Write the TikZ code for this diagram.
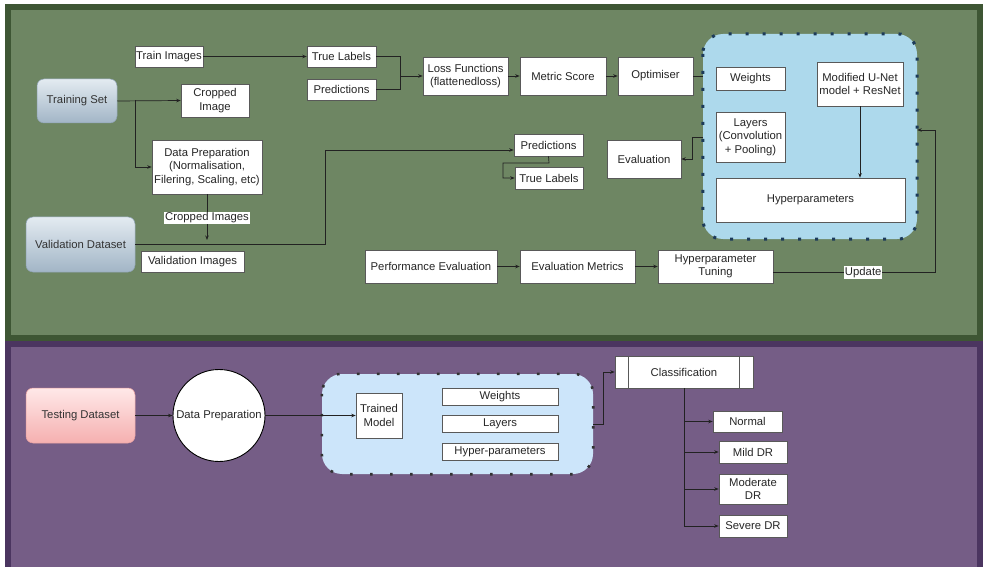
\documentclass[tikz,border=0pt]{standalone}
\usepackage{fontspec}
\setmainfont{Liberation Sans}
\usetikzlibrary{arrows.meta,calc}
\definecolor{gfill}{HTML}{6E8663}
\definecolor{gdark}{HTML}{3E5634}
\definecolor{pfill}{HTML}{755D86}
\definecolor{pdark}{HTML}{4B3560}
\definecolor{contA}{HTML}{ADD9EC}
\definecolor{contB}{HTML}{CCE5FA}
\definecolor{dotA}{HTML}{1D3B5A}
\definecolor{dotB}{HTML}{333333}
\definecolor{edgec}{HTML}{222222}
\definecolor{btop}{HTML}{E3EBF1}
\definecolor{bbot}{HTML}{A2B5C6}
\definecolor{bdraw}{HTML}{8FA3B4}
\definecolor{ptop}{HTML}{FFE8E8}
\definecolor{pbot}{HTML}{F5B0B0}
\definecolor{pdraw}{HTML}{E8A0A0}
\begin{document}
\begin{tikzpicture}[x=1pt,y=-1pt,
  font=\fontsize{11.3}{13.5}\selectfont,
  box/.style={draw=black!65, fill=white, line width=0.6pt, align=center, inner sep=1pt, text=black!85},
  arr/.style={-{Stealth[length=4.5pt,width=3.5pt]}, line width=0.7pt, draw=edgec},
  ln/.style={line width=0.7pt, draw=edgec},
  lbl/.style={fill=white, inner sep=1pt, text=black!85},
  dsblue/.style={rounded corners=7pt, top color=btop, bottom color=bbot, draw=bdraw, line width=0.5pt, align=center, text=black!80, inner sep=1pt},
  dspink/.style={rounded corners=7pt, top color=ptop, bottom color=pbot, draw=pdraw, line width=0.5pt, align=center, text=black!80, inner sep=1pt},
  contbox/.style={rounded corners=20pt, inner sep=0pt},
]
\useasboundingbox (0,0) rectangle (986,567);
\fill[white] (0,0) rectangle (986,567);
% panels
\draw[draw=gdark, fill=gfill, line width=6pt] (8,7) rectangle (980,337.5);
\draw[draw=pdark, fill=pfill, line width=6pt] (8,343.5) rectangle (980,575);

% ---------- top panel ----------
\node[dsblue, minimum width=80pt, minimum height=44pt] (trainset) at (77,101) {Training Set};
\node[dsblue, minimum width=109pt, minimum height=55pt] (valid) at (80.5,244.5) {Validation Dataset};

\node[box, minimum width=68pt, minimum height=21pt] (train) at (169,56.5) {Train Images};
\node[box, minimum width=68pt, minimum height=33pt] (crop) at (215,100.5) {Cropped\\Image};
\node[box, minimum width=110pt, minimum height=54pt] (dprep) at (207,167) {Data Preparation\\(Normalisation,\\Filering, Scaling, etc)};
\node[box, minimum width=103pt, minimum height=21pt] (valimg) at (192.5,261.5) {Validation Images};

\node[box, minimum width=69pt, minimum height=21pt] (truel) at (341.5,56.5) {True Labels};
\node[box, minimum width=69pt, minimum height=21pt] (pred) at (341.5,89.5) {Predictions};
\node[box, minimum width=85pt, minimum height=38pt] (loss) at (465.5,76) {Loss Functions\\(flattenedloss)};
\node[box, minimum width=86pt, minimum height=38pt] (metric) at (563,76) {Metric Score};
\node[box, minimum width=75pt, minimum height=38pt] (optim) at (655.5,76) {Optimiser};

\node[box, minimum width=69pt, minimum height=22pt] (predb) at (548.5,145) {Predictions};
\node[box, minimum width=68pt, minimum height=22pt] (truelb) at (549,178) {True Labels};
\node[box, minimum width=74pt, minimum height=38pt] (evalu) at (644,159) {Evaluation};

% container
\node[contbox, fill=contA, minimum width=214pt, minimum height=205pt] (cont) at (810,136.5) {};
\draw[dotA, line width=3pt, dash pattern=on 3pt off 14pt, rounded corners=20pt] (cont.north west) rectangle (cont.south east);
\node[box, minimum width=69pt, minimum height=23pt] (weights) at (750.5,78.5) {Weights};
\node[box, minimum width=69pt, minimum height=50pt] (layers) at (750.5,137) {Layers\\(Convolution\\+ Pooling)};
\node[box, minimum width=86pt, minimum height=44pt] (unet) at (860,84) {Modified U-Net\\model + ResNet};
\node[box, minimum width=189pt, minimum height=44pt] (hyper) at (810.5,200) {Hyperparameters};

\node[box, minimum width=132pt, minimum height=33pt] (perf) at (431,266.5) {Performance Evaluation};
\node[box, minimum width=115pt, minimum height=33pt] (evalm) at (577.5,266.5) {Evaluation Metrics};
\node[box, minimum width=115pt, minimum height=33pt] (tuning) at (715.5,266.5) {Hyperparameter\\Tuning};

% top connectors
\draw[arr] (train.east) -- (truel.west);
\coordinate (j1) at (400,76);
\draw[ln] (truel.east) -| (j1);
\draw[ln] (pred.east) -| (j1);
\draw[arr] (j1) -- (loss.west);
\draw[arr] (loss.east) -- (metric.west);
\draw[arr] (metric.east) -- (optim.west);
\draw[ln] (optim.east) -- (cont.west |- optim.east);

\draw[arr] (trainset.east) -- (crop.west);
\coordinate (j2) at (135,100.5);
\draw[arr] (j2) |- (dprep.west);
\coordinate (cropend) at (207,240);
\draw[arr] (dprep.south) -- node[lbl, pos=0.52]{Cropped Images} (cropend);
\coordinate (j3) at (325,244.5);
\draw[arr] (valid.east) -- (j3) |- ([yshift=-5pt]predb.west);

\coordinate (j4) at (549,163);
\coordinate (j5) at (503,163);
\draw[arr] (predb.south) -- (j4) -- (j5) |- (truelb.west);

\coordinate (j6) at (692,137);
\draw[arr] (cont.west |- layers) -- (j6) |- (evalu.east);
\draw[arr] (unet.south) -- (unet.south |- hyper.north);

\draw[arr] (perf.east) -- (evalm.west);
\draw[arr] (evalm.east) -- (tuning.west);
\coordinate (j7) at (935,272.5);
\coordinate (j8) at (935,130);
\draw[arr] ([yshift=-6pt]tuning.east) -- node[lbl, pos=0.556]{Update} (j7) -- (j8) -- (cont.east |- j8);

% ---------- bottom panel ----------
\node[dspink, minimum width=109pt, minimum height=55pt] (test) at (80.5,415.5) {Testing Dataset};
\node[circle, draw=black, fill=white, line width=0.9pt, minimum size=92pt, inner sep=0pt, text=black!85] (dprep2) at (219,415.5) {Data Preparation};

\node[contbox, fill=contB, minimum width=271pt, minimum height=100pt] (cont2) at (457.5,424) {};
\draw[dotB, line width=2.6pt, dash pattern=on 2.6pt off 17.4pt, rounded corners=20pt] (cont2.north west) rectangle (cont2.south east);
\node[box, minimum width=46pt, minimum height=45pt] (tmodel) at (379,415.5) {Trained\\Model};
\node[box, minimum width=116pt, minimum height=17pt] (w2) at (500,396.5) {Weights};
\node[box, minimum width=116pt, minimum height=17pt] (l2) at (500,424) {Layers};
\node[box, minimum width=116pt, minimum height=17pt] (h2) at (500,451.5) {Hyper-parameters};

\node[box, minimum width=138pt, minimum height=32pt] (cls) at (684,372) {Classification};
\draw[black!65, line width=0.6pt] ([xshift=14pt]cls.north west) -- ([xshift=14pt]cls.south west);
\draw[black!65, line width=0.6pt] ([xshift=-14pt]cls.north east) -- ([xshift=-14pt]cls.south east);

\node[box, minimum width=69pt, minimum height=21pt] (normal) at (747.5,421.5) {Normal};
\node[box, minimum width=68pt, minimum height=22pt] (mild) at (753,452) {Mild DR};
\node[box, minimum width=68pt, minimum height=30pt] (moder) at (753,489) {Moderate\\DR};
\node[box, minimum width=68pt, minimum height=22pt] (severe) at (753,526) {Severe DR};

\draw[arr] (test.east) -- (dprep2.west);
\draw[arr] (dprep2.east) -- (tmodel.west);
\coordinate (j9) at (603,424);
\draw[arr] (cont2.east |- j9) -- (j9) |- (cls.west);
\draw[ln] (cls.south) -- (cls.south |- severe);
\draw[arr] (cls.south |- normal) -- (normal.west);
\draw[arr] (cls.south |- mild) -- (mild.west);
\draw[arr] (cls.south |- moder) -- (moder.west);
\draw[arr] (cls.south |- severe) -- (severe.west);
\end{tikzpicture}
\end{document}
